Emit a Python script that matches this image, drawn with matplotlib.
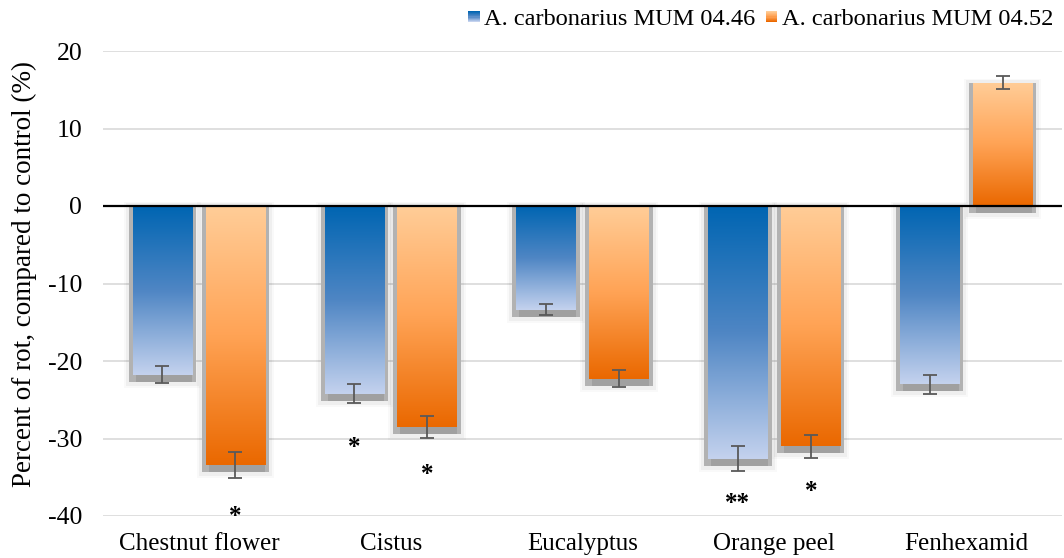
import numpy as np
import matplotlib
matplotlib.use("Agg")
import matplotlib.pyplot as plt
from matplotlib.patches import Rectangle
from matplotlib.legend_handler import HandlerBase
from matplotlib.colors import LinearSegmentedColormap

plt.rcParams['font.family'] = ['Liberation Serif', 'DejaVu Serif']

categories = ["Chestnut flower", "Cistus", "Eucalyptus", "Orange peel", "Fenhexamid"]
series_names = ["A. carbonarius MUM 04.46", "A. carbonarius MUM 04.52"]
mum0446 = [-21.8, -24.2, -13.4, -32.6, -23.0]
mum0446_err = [1.1, 1.2, 0.7, 1.65, 1.2]
mum0452 = [-33.4, -28.5, -22.3, -31.0, 15.9]
mum0452_err = [1.65, 1.4, 1.1, 1.5, 0.85]
# significance marks: (category index, series index, label, y position)
stars = [(0, 1, "*", -40.0), (1, 0, "*", -31.2), (1, 1, "*", -34.6),
         (3, 0, "**", -38.4), (3, 1, "*", -36.9)]
yticks = [-40, -30, -20, -10, 0, 10, 20]

blue_cmap = LinearSegmentedColormap.from_list("b", ["#0065B2", "#4F86C4", "#C4D2EE"])
orange_cmap = LinearSegmentedColormap.from_list("o", ["#FFCD98", "#FFA355", "#EA6800"])

fig = plt.figure(figsize=(10.64, 5.58), dpi=100)
ax = fig.add_axes([103/1064, 1-516/558, 1-103/1064-2/1064, (516-51)/558])
ax.set_xlim(-0.5, 4.5)
ax.set_ylim(-40, 20)

width = 0.31
offset = 0.19
x = np.arange(len(categories))
pxx = 961/5.0   # pixels per x unit
pxy = 465/60.0  # pixels per y unit

grad = np.linspace(0, 1, 256).reshape(-1, 1)

def draw_bar(xc, val, err, cmap):
    x0 = xc - width/2
    y0, y1 = min(0, val), max(0, val)
    # soft shadow / glow
    for ex, eb, et, a in [(9, 13, 4, 0.025), (7, 11, 3, 0.04)]:
        ax.add_patch(Rectangle((x0 - ex/pxx, y0 - eb/pxy), width + 2*ex/pxx,
                               (y1 - y0) + (eb + et)/pxy, facecolor="#000000", alpha=a,
                               edgecolor="none", zorder=2))
    ax.add_patch(Rectangle((x0 - 4/pxx, y0 - 7/pxy), width + 8/pxx, (y1 - y0) + 7/pxy,
                           facecolor="#b2b2b2", edgecolor="none", zorder=2.2))
    ax.add_patch(Rectangle((x0 + 3/pxx, y0 - 7/pxy), width - 3/pxx, 7/pxy,
                           facecolor="#a0a0a0", edgecolor="none", zorder=2.3))
    rect = Rectangle((x0, y0), width, y1 - y0, facecolor="none", edgecolor="none", zorder=3)
    ax.add_patch(rect)
    im = ax.imshow(grad, cmap=cmap, aspect="auto", extent=(x0, x0 + width, y0, y1),
                   origin="upper", zorder=3, interpolation="bilinear")
    im.set_clip_path(rect)
    ax.errorbar(xc, val, yerr=err, fmt="none", ecolor="#595959", elinewidth=1.3,
                capsize=5, capthick=1.3, zorder=5)

for i in range(len(categories)):
    draw_bar(x[i] - offset, mum0446[i], mum0446_err[i], blue_cmap)
    draw_bar(x[i] + offset, mum0452[i], mum0452_err[i], orange_cmap)

for ci, si, lab, yy in stars:
    xc = x[ci] + (offset if si == 1 else -offset)
    ax.text(xc, yy, lab, ha="center", va="center", fontsize=18, fontweight="bold", zorder=6)

ax.set_yticks(yticks)
ax.set_yticklabels([str(t) for t in yticks], fontsize=18.5)
ax.set_xticks(x)
ax.set_xticklabels(categories, fontsize=18)
ax.tick_params(axis="both", length=0)
ax.tick_params(axis="y", pad=15)
ax.tick_params(axis="x", pad=12)
ax.grid(axis="y", color="#d9d9d9", linewidth=1.2, zorder=0)
ax.set_axisbelow(True)
for s in ax.spines.values():
    s.set_visible(False)
ax.axhline(0, color="black", linewidth=1.6, zorder=4)
ax.set_ylabel("Percent of rot, compared to control (%)", fontsize=19.5)
ax.yaxis.set_label_coords(-0.069, 0.52)


class GradHandler(HandlerBase):
    def __init__(self, cmap):
        super().__init__()
        self.cmap = cmap

    def create_artists(self, legend, orig_handle, xdescent, ydescent, width, height, fontsize, trans):
        arts = []
        n = 10
        s = 8.5
        bx = width - s - xdescent
        by = -ydescent + (height - s) / 2
        for k in range(n):
            c = self.cmap(k / (n - 1))
            r = Rectangle((bx, by + s - (k + 1) * s / n), s, s / n + 0.05,
                          facecolor=c, edgecolor="none", transform=trans)
            arts.append(r)
        return arts


h1 = Rectangle((0, 0), 1, 1)
h2 = Rectangle((0, 0), 1, 1)
fig.legend([h1, h2], series_names, loc="center right", bbox_to_anchor=(1053/1064, 1-19/558),
           ncol=2, frameon=False, fontsize=17.6, handlelength=0.45, handletextpad=0.17,
           columnspacing=0.45, borderpad=0, borderaxespad=0,
           handler_map={h1: GradHandler(blue_cmap), h2: GradHandler(orange_cmap)})

fig.savefig("out.png", dpi=100)
